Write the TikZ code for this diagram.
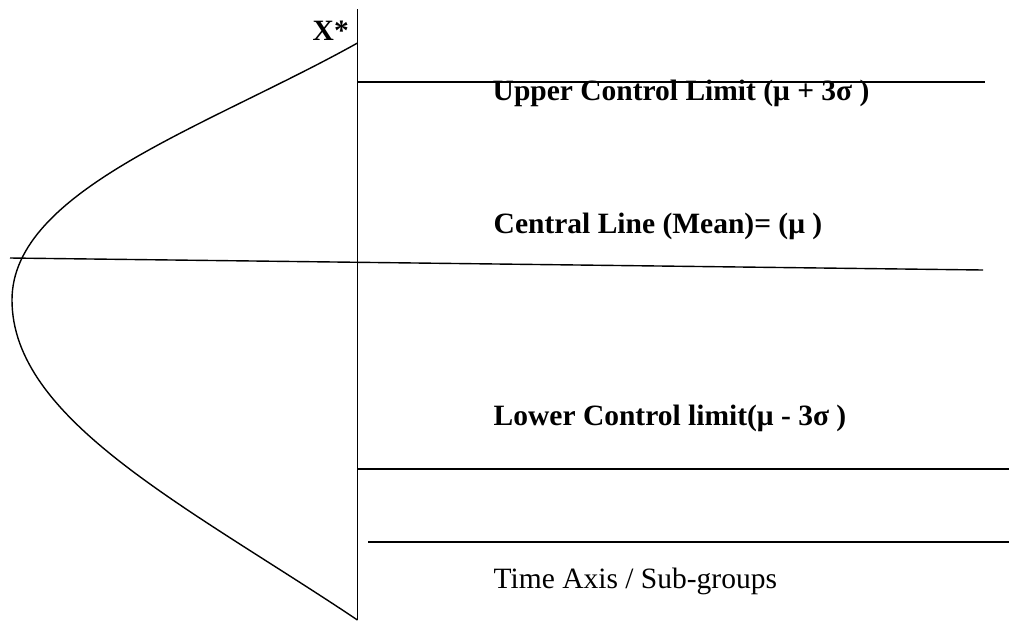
\documentclass[tikz,border=0pt]{standalone}
\usepackage{fontspec}
\setmainfont{Liberation Serif}
\begin{document}
\begin{tikzpicture}[x=1pt,y=-1pt,line width=1.4pt,
  lbl/.style={anchor=base west,inner sep=0pt,font=\fontsize{29.5}{34}\selectfont\bfseries},
  plain/.style={anchor=base west,inner sep=0pt,font=\fontsize{29.5}{34}\selectfont}]
\useasboundingbox (0,0) rectangle (1009,625);
% axis
\coordinate (atop) at (357.5,9);
\coordinate (abot) at (357.5,620);
\draw (atop) -- (abot);
% curve
\draw (357.5,43) .. controls (207,127) and (12,190) .. (12,300)
      .. controls (12,420) and (187,506) .. (357.5,620);
% lines
\draw (357.5,82) -- (985,82);
\draw (10,258) -- (983,270);
\draw (357.5,469) -- (1009,469);
\draw (368,542) -- (1009,542);
% texts
\node[lbl] (xs) at (312,40) {X*};
\node[lbl] (ucl) at (492,100) {Upper Control Limit (μ + 3σ )};
\node[lbl] (cl) at (493,233) {Central Line (Mean)= (μ )};
\node[lbl] (lcl) at (493,425) {Lower Control limit(μ - 3σ )};
\node[plain] (time) at (493,588) {Time Axis / Sub-groups};
\end{tikzpicture}
\end{document}
